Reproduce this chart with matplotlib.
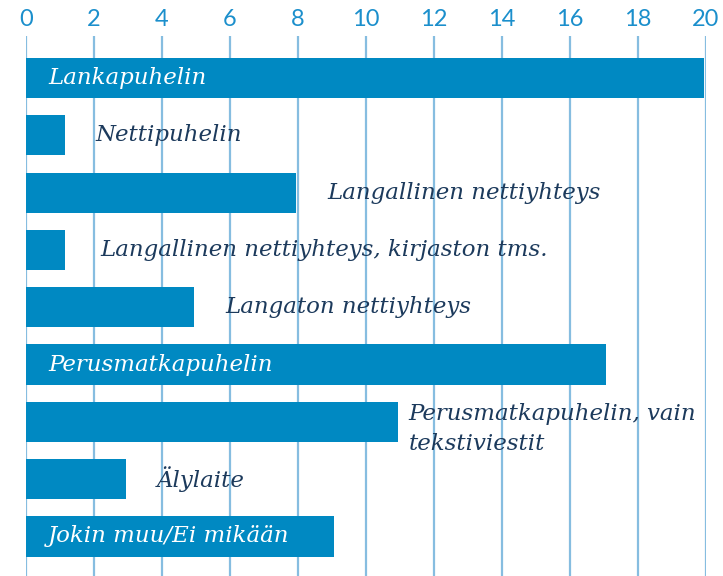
import matplotlib.pyplot as plt

labels = ['Lankapuhelin', 'Nettipuhelin', 'Langallinen nettiyhteys',
          'Langallinen nettiyhteys, kirjaston tms.', 'Langaton nettiyhteys',
          'Perusmatkapuhelin', 'Perusmatkapuhelin, vain\ntekstiviestit',
          'Älylaite', 'Jokin muu/Ei mikään']
values = [20, 1.2, 8.0, 1.2, 5.0, 17.1, 11.0, 3.0, 9.1]
inside = [True, False, False, False, False, True, False, False, True]
ticks = list(range(0, 21, 2))

bar_c = '#0089c2'
grid_c = '#86bde0'
text_c = '#1c3a5c'
tick_c = '#1b8fcc'

fig = plt.figure(figsize=(7.23, 5.76), dpi=100)
ax = fig.add_axes([26/723, 0, 680/723, 540/576])

pos = list(range(len(values)))
for x in ticks:
    ax.axvline(x, color=grid_c, lw=1.6, zorder=0)
ax.barh(pos, values, height=0.70, color=bar_c, zorder=2, left=-0.05)

fs = 16.5
for i, (lab, v, ins) in enumerate(zip(labels, values, inside)):
    if ins:
        ax.text(0.65, i, lab, color='white', fontsize=fs, style='italic',
                family='DejaVu Serif', va='center', ha='left', zorder=3)
    elif '\n' in lab:
        ax.text(v + 0.25, i + 0.12, lab, color=text_c, fontsize=fs, style='italic',
                family='DejaVu Serif', va='center', ha='left', zorder=1,
                linespacing=1.45)
    else:
        pad = 1.0 if i == 3 else 0.85
        ax.text(v + pad, i, lab, color=text_c, fontsize=fs, style='italic',
                family='DejaVu Serif', va='center', ha='left', zorder=1)

ax.set_xlim(0, 20)
ax.set_ylim(8.69, -0.733)
ax.set_yticks([])
ax.xaxis.tick_top()
ax.set_xticks(ticks)
ax.set_xticklabels([str(t) for t in ticks], color=tick_c, fontsize=17, family='Lato')
ax.tick_params(axis='x', length=0, pad=4)
for s in ax.spines.values():
    s.set_visible(False)

fig.savefig('out.png', dpi=100)
